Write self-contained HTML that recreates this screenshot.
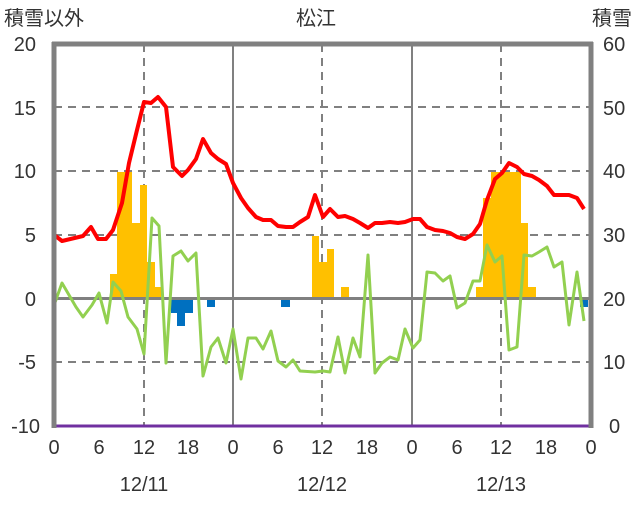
<!DOCTYPE html>
<html><head><meta charset="utf-8"><style>
body{margin:0;background:#fff;}
svg text{font-family:"Liberation Sans","Noto Sans CJK JP",sans-serif;fill:#333;}
</style></head><body>
<svg width="636" height="501" viewBox="0 0 636 501" xmlns="http://www.w3.org/2000/svg">
<rect width="636" height="501" fill="#fff"/>
<g stroke="#808080" stroke-width="2" stroke-dasharray="8,6">
<line x1="54" y1="107" x2="591" y2="107"/><line x1="54" y1="171" x2="591" y2="171"/>
<line x1="54" y1="235" x2="591" y2="235"/><line x1="54" y1="362" x2="591" y2="362"/>
<line x1="144" y1="44" x2="144" y2="426"/><line x1="322" y1="44" x2="322" y2="426"/><line x1="501" y1="44" x2="501" y2="426"/>
</g>
<g stroke="#808080" stroke-width="2">
<line x1="233" y1="44" x2="233" y2="426"/><line x1="412" y1="44" x2="412" y2="426"/>
</g>
<g fill="#FFC000">
<rect x="110" y="274" width="7" height="24"/><rect x="117" y="172" width="15" height="126"/>
<rect x="132" y="223" width="8" height="75"/><rect x="140" y="185" width="7" height="113"/>
<rect x="147" y="262" width="8" height="36"/><rect x="155" y="287" width="6" height="11"/>
<rect x="312" y="236" width="7" height="62"/><rect x="319" y="262" width="8" height="36"/>
<rect x="327" y="249" width="7" height="49"/><rect x="341" y="287" width="8" height="11"/>
<rect x="476" y="287" width="7" height="11"/><rect x="483" y="198" width="8" height="100"/>
<rect x="491" y="172" width="30" height="126"/><rect x="521" y="223" width="7" height="75"/>
<rect x="528" y="287" width="8" height="11"/>
</g>
<g fill="#0070C0">
<rect x="171" y="298" width="22" height="15"/><rect x="177" y="298" width="8" height="28"/>
<rect x="207" y="298" width="8" height="9"/><rect x="281" y="298" width="9" height="9"/>
<rect x="580" y="298" width="8" height="9"/>
</g>
<line x1="54" y1="298.5" x2="591" y2="298.5" stroke="#808080" stroke-width="3"/>
<polyline fill="none" stroke="#92D050" stroke-width="3" stroke-linejoin="round" points="53,308 62,283 76,307 83,317 92,305 99,293 107,323 113,282 121,291 128,317 137,329 144,354 152,218 159,226 166,363 173,256 181,251 188,261 196,253 203,376 211,347 218,338 226,363 233,329 241,379 248,338 256,338 263,349 271,331 278,361 286,367 293,360 300,371 315,372 323,371 330,372 338,337 345,373 353,338 360,357 368,255 375,373 382,363 390,357 398,360 405,329 413,348 420,340 427,272 435,273 443,281 450,276 457,308 465,303 473,281 480,281 487,245 495,262 502,256 509,350 517,347 524,255 532,256 539,252 547,247 554,267 562,262 569,325 577,272 584,321"/>
<polyline fill="none" stroke="#FF0000" stroke-width="4" stroke-linejoin="round" points="53,234 62,241 83,236 91,227 98,239 106,239 113,230 122,203 129,163 137,130 144,102 151,103 158,97 166,107 173,167 182,176 188,170 196,159 203,139 211,153 218,159 226,164 233,183 241,198 248,208 256,217 263,220 271,220 278,226 286,227 293,227 300,222 308,217 315,195 323,217 330,209 338,217 345,216 353,219 360,223 368,228 375,223 382,223 390,222 398,223 405,222 413,219 420,219 427,227 435,230 443,231 450,233 457,237 465,239 473,234 480,224 487,200 495,179 502,173 509,163 517,167 524,174 532,176 539,180 547,186 554,195 562,195 569,195 577,198 584,209"/>
<line x1="54" y1="426" x2="591" y2="426" stroke="#7030A0" stroke-width="3"/>
<g stroke="#808080" stroke-width="5" fill="none">
<line x1="54" y1="42" x2="54" y2="428"/><line x1="591" y1="42" x2="591" y2="428"/>
<line x1="52" y1="44" x2="593" y2="44"/>
</g>
<g font-size="20" text-anchor="end">
<text x="36" y="51">20</text><text x="36" y="115">15</text><text x="36" y="178">10</text>
<text x="36" y="242">5</text><text x="36" y="306">0</text><text x="36" y="369">-5</text><text x="40" y="433">-10</text>
</g>
<g font-size="20" text-anchor="start">
<text x="603" y="51">60</text><text x="603" y="115">50</text><text x="603" y="178">40</text>
<text x="603" y="242">30</text><text x="603" y="306">20</text><text x="603" y="369">10</text><text x="609" y="433">0</text>
</g>
<g font-size="20" text-anchor="middle">
<text x="54" y="454">0</text><text x="99" y="454">6</text><text x="144" y="454">12</text><text x="188" y="454">18</text>
<text x="233" y="454">0</text><text x="278" y="454">6</text><text x="322" y="454">12</text><text x="367" y="454">18</text>
<text x="412" y="454">0</text><text x="457" y="454">6</text><text x="501" y="454">12</text><text x="546" y="454">18</text><text x="591" y="454">0</text>
<text x="144" y="491">12/11</text><text x="322" y="491">12/12</text><text x="501" y="491">12/13</text>
<text x="316" y="25">松江</text>
</g>
<text x="4" y="25" font-size="20">積雪以外</text>
<text x="632" y="25" font-size="20" text-anchor="end">積雪</text>
</svg>
</body></html>
